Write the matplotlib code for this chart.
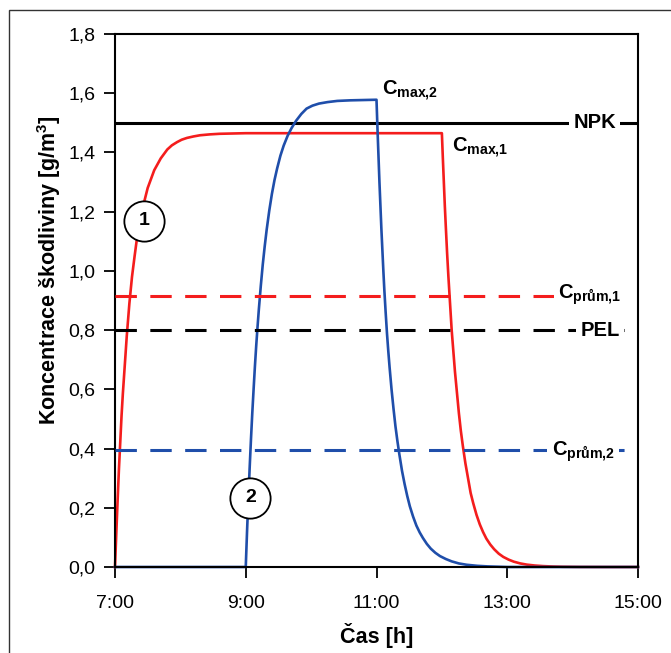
import matplotlib
matplotlib.use('Agg')
import matplotlib.pyplot as plt
from matplotlib.patches import Rectangle

# Time axis [h] and concentrations [g/m3]
red_t = [7.00, 7.02, 7.04, 7.06, 7.08, 7.10, 7.12, 7.14, 7.16, 7.18, 7.20, 7.22,
         7.24, 7.26, 7.28, 7.30, 7.33, 7.36, 7.39, 7.42, 7.46, 7.50, 7.55, 7.60,
         7.65, 7.70, 7.75, 7.80, 7.87, 7.95, 8.02, 8.10, 8.20, 8.30, 8.45, 8.60,
         8.80, 9.00, 10.00, 11.00, 12.00,
         12.015, 12.03, 12.045, 12.06, 12.08, 12.10, 12.125, 12.15, 12.175, 12.20,
         12.23, 12.26, 12.29, 12.32, 12.36, 12.40, 12.44, 12.48, 12.53, 12.58,
         12.63, 12.68, 12.74, 12.80, 12.87, 12.94, 13.02, 13.10, 13.20, 13.30,
         13.42, 13.55, 13.70, 13.85, 14.10, 14.50, 15.00]
red_c = [0.0, 0.115, 0.225, 0.33, 0.42, 0.51, 0.585, 0.65, 0.715, 0.78, 0.835, 0.89,
         0.935, 0.98, 1.015, 1.05, 1.10, 1.14, 1.175, 1.21, 1.245, 1.28, 1.31, 1.34,
         1.36, 1.38, 1.395, 1.41, 1.424, 1.435, 1.443, 1.449, 1.454, 1.458, 1.461, 1.463,
         1.464, 1.465, 1.465, 1.465, 1.465,
         1.38, 1.30, 1.22, 1.15, 1.06, 0.98, 0.89, 0.80, 0.73, 0.66,
         0.59, 0.52, 0.46, 0.41, 0.35, 0.30, 0.25, 0.215, 0.176, 0.144,
         0.118, 0.096, 0.076, 0.06, 0.045, 0.034, 0.025, 0.018, 0.012, 0.008,
         0.005, 0.003, 0.0016, 0.0008, 0.0002, 0.0, 0.0]

blue_t = [7.00, 9.00, 9.02, 9.04, 9.06, 9.08, 9.10, 9.12, 9.14, 9.16, 9.18, 9.20,
          9.23, 9.26, 9.29, 9.32, 9.36, 9.40, 9.44, 9.48, 9.53, 9.58, 9.64, 9.70,
          9.77, 9.85, 9.93, 10.02, 10.12, 10.25, 10.40, 10.60, 10.80, 11.00,
          11.015, 11.03, 11.045, 11.06, 11.075, 11.09, 11.105, 11.12, 11.14, 11.16,
          11.18, 11.20, 11.23, 11.26, 11.29, 11.32, 11.35, 11.39, 11.43, 11.47,
          11.51, 11.56, 11.61, 11.66, 11.71, 11.77, 11.83, 11.90, 11.97, 12.06,
          12.15, 12.26, 12.38, 12.54, 12.70, 12.85, 13.00, 15.00]
blue_c = [0.0, 0.0, 0.121, 0.233, 0.336, 0.432, 0.52, 0.60, 0.677, 0.747, 0.81, 0.869,
          0.949, 1.021, 1.083, 1.139, 1.204, 1.26, 1.307, 1.346, 1.389, 1.423, 1.456, 1.482,
          1.507, 1.53, 1.548, 1.558, 1.565, 1.570, 1.574, 1.576, 1.577, 1.578,
          1.48, 1.39, 1.30, 1.22, 1.14, 1.07, 1.00, 0.935, 0.86, 0.79,
          0.73, 0.675, 0.60, 0.535, 0.475, 0.425, 0.38, 0.325, 0.28, 0.24,
          0.205, 0.17, 0.14, 0.117, 0.098, 0.078, 0.062, 0.048, 0.037, 0.027,
          0.019, 0.012, 0.0075, 0.004, 0.002, 0.001, 0.0, 0.0]

npk = 1.5
pel = 0.8
c_prum_1 = 0.916
c_prum_2 = 0.394

x_ticks = [7, 9, 11, 13, 15]
x_labels = ['7:00', '9:00', '11:00', '13:00', '15:00']
y_ticks = [0.0, 0.2, 0.4, 0.6, 0.8, 1.0, 1.2, 1.4, 1.6, 1.8]
y_labels = ['0,0', '0,2', '0,4', '0,6', '0,8', '1,0', '1,2', '1,4', '1,6', '1,8']

RED = '#f41d1d'
BLUE = '#1f4eaa'

plt.rcParams['font.family'] = ['Liberation Sans', 'DejaVu Sans']
plt.rcParams['mathtext.fontset'] = 'custom'
plt.rcParams['mathtext.rm'] = 'Liberation Sans:bold'
plt.rcParams['mathtext.bf'] = 'Liberation Sans:bold'
plt.rcParams['mathtext.default'] = 'rm'

fig = plt.figure(figsize=(6.71, 6.53), dpi=100)
ax = fig.add_axes([115 / 671, 1 - 567 / 653, 523 / 671, 533 / 653])

# thin frame round the whole picture (runs off right and bottom edge)
fig.patches.append(Rectangle((9 / 671, -0.1), 1.2, 1 - 10 / 653 + 0.1,
                             transform=fig.transFigure, fill=False,
                             ec='#333333', lw=1.0))

# reference levels
ax.axhline(npk, color='black', lw=2.2, zorder=1)
ax.axhline(c_prum_1, color=RED, lw=2.2, dashes=(7, 4.4), zorder=3)
ax.axhline(pel, color='black', lw=2.2, dashes=(7, 4.4), zorder=3)
ax.axhline(c_prum_2, color=BLUE, lw=2.2, dashes=(7, 4.4), zorder=3)

# concentration curves
ax.plot(red_t, red_c, color=RED, lw=1.9, zorder=2, clip_on=False,
        solid_joinstyle='round')
ax.plot(blue_t, blue_c, color=BLUE, lw=1.9, zorder=2, clip_on=False,
        solid_joinstyle='round')

# labels on the right
wb = dict(fc='white', ec='none', pad=3)
lab = dict(fontsize=14.5, fontweight='bold', zorder=4)
ax.text(14.34, npk, 'NPK', ha='center', va='center', bbox=wb, **lab)
ax.text(14.415, pel, 'PEL', ha='center', va='center', bbox=wb, **lab)
ax.text(13.78, 0.907, r'C$_{prům{,}1}$', ha='left', va='baseline', bbox=wb, **lab)
ax.text(13.68, 0.377, r'C$_{prům{,}2}$', ha='left', va='baseline', bbox=wb, **lab)
ax.text(11.08, 1.594, r'C$_{max{,}2}$', ha='left', va='baseline', **lab)
ax.text(12.15, 1.402, r'C$_{max{,}1}$', ha='left', va='baseline', **lab)

# circled curve numbers
for cx, cy, s in [(7.44, 1.17, '1'), (9.07, 0.234, '2')]:
    ax.plot([cx], [cy], 'o', ms=29, mfc='white', mec='black', mew=1.3, zorder=5)
    ax.text(cx, cy, s, ha='center', va='center', fontsize=14,
            fontweight='bold', zorder=6)

ax.set_xlim(7, 15)
ax.set_ylim(0, 1.8)
ax.set_xticks(x_ticks)
ax.set_xticklabels(x_labels)
ax.set_yticks(y_ticks)
ax.set_yticklabels(y_labels)
ax.tick_params(axis='both', direction='out', length=8, width=1.3,
               labelsize=14, colors='black')
ax.tick_params(axis='x', pad=12)
ax.tick_params(axis='y', pad=6)
for sp in ax.spines.values():
    sp.set_linewidth(1.5)

ax.set_xlabel('Čas [h]', fontsize=15.5, fontweight='bold', labelpad=8)
ax.set_ylabel(r'Koncentrace škodliviny [g/m$^{3}$]', fontsize=15.5, fontweight='bold')
ax.yaxis.set_label_coords(-0.10, 0.557)

fig.savefig('out.png', dpi=100)
